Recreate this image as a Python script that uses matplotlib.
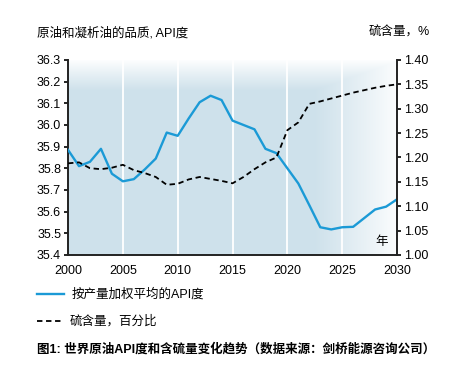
import numpy as np
import matplotlib.pyplot as plt

plt.rcParams['font.family'] = ['Liberation Sans', 'Noto Sans CJK SC', 'DejaVu Sans']

years = list(range(2000, 2031))
api = [35.885, 35.81, 35.83, 35.89, 35.775, 35.74, 35.75, 35.795, 35.845, 35.965,
       35.95, 36.03, 36.105, 36.135, 36.115, 36.02, 36.0, 35.98, 35.89, 35.87,
       35.80, 35.73, 35.63, 35.528, 35.518, 35.528, 35.53, 35.57, 35.61, 35.623, 35.657]
sulfur = [1.188, 1.19, 1.178, 1.176, 1.179, 1.185, 1.174, 1.168, 1.16, 1.144,
          1.146, 1.155, 1.16, 1.156, 1.152, 1.147, 1.16, 1.176, 1.19, 1.2,
          1.256, 1.272, 1.31, 1.315, 1.321, 1.327, 1.333, 1.338, 1.343, 1.347, 1.35]

left_ticks = [35.4, 35.5, 35.6, 35.7, 35.8, 35.9, 36.0, 36.1, 36.2, 36.3]
right_ticks = [1.00, 1.05, 1.10, 1.15, 1.20, 1.25, 1.30, 1.35, 1.40]
x_ticks = [2000, 2005, 2010, 2015, 2020, 2025, 2030]

blue = '#1b9ad6'

fig = plt.figure(figsize=(4.66, 3.82), dpi=100)
ax = fig.add_axes([0.146, 0.3325, 0.706, 0.5105])
ax2 = ax.twinx()

# background gradient
nx, ny = 300, 200
gx = np.linspace(2000, 2030, nx)
gy = np.linspace(0, 1, ny)  # 0 bottom, 1 top
X, Y = np.meshgrid(gx, gy)
fv = np.clip((1.0 - Y) / 0.16, 0, 1)
fh = np.clip((2030.5 - X) / 8.0, 0.05, 1)
alpha = np.minimum(fv, fh) ** 0.9
img = np.zeros((ny, nx, 4))
img[..., 0] = 0.81
img[..., 1] = 0.886
img[..., 2] = 0.925
img[..., 3] = alpha
ax.imshow(img, extent=[2000, 2030, 35.4, 36.3], origin='lower', aspect='auto', zorder=0)

for xt in x_ticks[1:-1]:
    ax.axvline(xt, color='white', lw=1.3, zorder=1)

ax.plot(years, api, color=blue, lw=1.7, zorder=3)
ax2.plot(years, sulfur, color='black', lw=1.3, ls=(0, (3, 2)), zorder=3)

ax.set_xlim(2000, 2030)
ax.set_ylim(35.4, 36.3)
ax2.set_ylim(1.0, 1.4)
ax.set_xticks(x_ticks)
ax.set_yticks(left_ticks)
ax.set_yticklabels(['%.1f' % v for v in left_ticks])
ax2.set_yticks(right_ticks)
ax2.set_yticklabels(['%.2f' % v for v in right_ticks])

for a in (ax, ax2):
    a.spines['top'].set_visible(False)
    for s in ('left', 'right', 'bottom'):
        a.spines[s].set_linewidth(1.4)
        a.spines[s].set_color('#222222')
ax.spines['right'].set_visible(False)
ax2.spines['left'].set_visible(False)
ax2.spines['bottom'].set_visible(False)
ax.tick_params(axis='y', length=3, width=1.2, labelsize=9, pad=2)
ax.tick_params(axis='x', length=0, labelsize=9, pad=7)
ax2.tick_params(axis='y', length=3, width=1.2, labelsize=9, pad=2)

ax.text(2028.6, 35.43, '年', fontsize=9, ha='center', va='bottom', zorder=4)

fig.text(37 / 466, 1 - 33 / 382, '原油和凝析油的品质, API度', fontsize=9, va='center', ha='left')
fig.text(430 / 466, 1 - 33 / 382, '硫含量，%', fontsize=9, va='center', ha='right')

# legend
y1 = 1 - 294 / 382
y2 = 1 - 321 / 382
fig.add_artist(plt.Line2D([37 / 466, 64 / 466], [y1, y1], color=blue, lw=1.7))
fig.text(72 / 466, y1, '按产量加权平均的API度', fontsize=9, va='center', ha='left')
fig.add_artist(plt.Line2D([37 / 466, 64 / 466], [y2, y2], color='black', lw=1.3, ls=(0, (3, 2))))
fig.text(70 / 466, y2, '硫含量，百分比', fontsize=9, va='center', ha='left')

fig.text(37 / 466, 1 - 349 / 382, '图1: 世界原油API度和含硫量变化趋势（数据来源：剑桥能源咨询公司）',
         fontsize=9, va='center', ha='left', fontweight='bold')

fig.savefig('out.png', dpi=100, facecolor='white')
